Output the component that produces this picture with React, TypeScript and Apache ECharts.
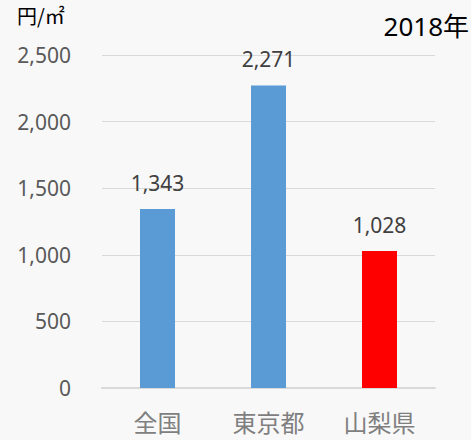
import React, { useEffect, useRef } from "react";
import * as echarts from "echarts";

const categories = ["全国", "東京都", "山梨県"];
const values = [1343, 2271, 1028];
const barColors = ["#5b9bd5", "#5b9bd5", "#ff0000"];
const unitLabel = "円/㎡";
const yearLabel = "2018年";

export default function App() {
  const ref = useRef<HTMLDivElement>(null);
  useEffect(() => {
    if (!ref.current) return;
    const chart = echarts.init(ref.current, null, { renderer: "svg" });
    chart.setOption({
      animation: false,
      backgroundColor: "#f8f8f8",
      textStyle: { fontFamily: "Noto Sans, Noto Sans CJK JP" },
      grid: { left: 102, right: 36, top: 55, bottom: 52 },
      graphic: [
        { type: "text", left: 17, top: 5, style: { text: unitLabel, fontSize: 20, fill: "#000", fontFamily: "Noto Sans CJK JP" } },
        { type: "text", right: 2, top: 13, style: { text: yearLabel, fontSize: 26, fill: "#000", fontFamily: "Noto Sans, Noto Sans CJK JP" } },
      ],
      xAxis: {
        type: "category",
        data: categories,
        axisTick: { show: false },
        axisLine: { lineStyle: { color: "#d9d9d9", width: 2 } },
        axisLabel: { color: "#7f7f7f", fontSize: 24, margin: 20, lineHeight: 26, fontFamily: "Noto Sans CJK JP" },
      },
      yAxis: {
        type: "value",
        min: 0,
        max: 2500,
        interval: 500,
        axisLine: { show: false },
        axisTick: { show: false },
        splitLine: { lineStyle: { color: "#d9d9d9", width: 1 } },
        axisLabel: {
          color: "#595959",
          fontSize: 21,
          margin: 31,
          formatter: (v: number) => v.toLocaleString("en-US"),
        },
      },
      series: [
        {
          type: "bar",
          barWidth: 35,
          data: values.map((v, i) => ({ value: v, itemStyle: { color: barColors[i] } })),
          label: {
            show: true,
            position: "top",
            distance: 16,
            color: "#404040",
            fontSize: 21,
            formatter: (p: any) => Number(p.value).toLocaleString("en-US"),
          },
        },
      ],
    });
    return () => chart.dispose();
  }, []);
  return <div ref={ref} style={{ position: "fixed", left: 0, top: 0, width: 471, height: 440 }} />;
}
